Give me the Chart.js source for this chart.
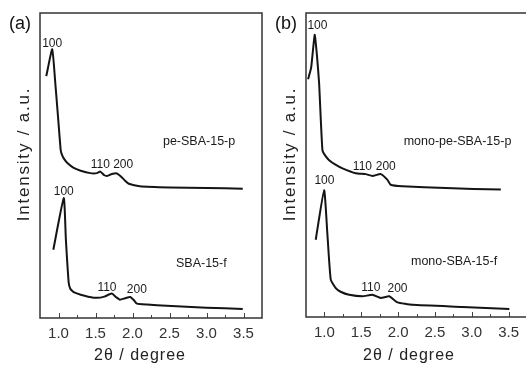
<!DOCTYPE html>
<html>
<head>
<meta charset="utf-8">
<script src="https://cdn.jsdelivr.net/npm/chart.js@4/dist/chart.umd.min.js"></script>
<style>
html, body { margin: 0; padding: 0; overflow: hidden; background: #fff; width: 526px; height: 365px; }
canvas { position: absolute; top: 0; }
#panelA { left: 0; }
#panelB { left: 263px; }
</style>
</head>
<body>
<canvas id="panelA" width="280" height="365"></canvas>
<canvas id="panelB" width="290" height="365"></canvas>
<script>
(function () {

// x axis ticks (2theta, degree)
var tickMin = 0.75;
var tickMax = 3.75;
var tickStep = 0.25;

// panel (a), top: pe-SBA-15-p
var peP_theta = [0.835, 0.915, 0.96, 1.0, 1.03, 1.05, 1.08, 1.12, 1.2, 1.3, 1.43, 1.52, 1.565, 1.62, 1.66, 1.72, 1.79, 1.84, 1.9, 1.95, 2.1, 2.5, 3.0, 3.49];
var peP_int = [79.3, 88.1, 76, 64, 55, 53.3, 52.0, 50.8, 49.3, 48.3, 47.5, 47.5, 48.0, 46.8, 46.6, 47.2, 47.4, 46.5, 45.0, 44.0, 43.2, 42.8, 42.6, 42.4];

// panel (a), bottom: SBA-15-f
var sbaF_theta = [0.93, 1.071, 1.10, 1.138, 1.161, 1.19, 1.22, 1.30, 1.40, 1.52, 1.62, 1.72, 1.78, 1.83, 1.90, 1.97, 2.02, 2.06, 2.2, 2.46, 3.0, 3.49];
var sbaF_int = [22.4, 39.3, 25.6, 11.5, 9.5, 8.8, 8.3, 7.6, 7.0, 6.6, 7.0, 8.0, 6.8, 6.0, 6.5, 6.9, 5.8, 4.7, 4.4, 4.0, 3.4, 2.95];

// panel (b), top: mono-pe-SBA-15-p
var monoP_theta = [0.778, 0.82, 0.868, 0.898, 0.928, 0.973, 1.014, 1.064, 1.15, 1.245, 1.425, 1.561, 1.652, 1.765, 1.856, 1.90, 2.06, 2.648, 3.395];
var monoP_int = [78.2, 82, 92.8, 86.2, 76.9, 54.9, 53, 51.6, 50.1, 48.9, 47.3, 47.0, 46.4, 47.0, 45.1, 43.5, 43.0, 42.4, 41.9];

// panel (b), bottom: mono-SBA-15-f
var monoF_theta = [0.882, 0.996, 1.041, 1.086, 1.154, 1.22, 1.336, 1.516, 1.652, 1.765, 1.879, 1.992, 2.196, 2.875, 3.51];
var monoF_int = [25.4, 41.7, 27.0, 12.3, 9.5, 8.3, 7.3, 6.8, 7.3, 6.25, 6.8, 4.8, 4.0, 3.3, 2.6];

// text labels: [text, 2theta, intensity, size]
var labelsA = [
	['100', 0.915, 90.0, 12],
	['pe-SBA-15-p', 2.90, 57.8, 12.5],
	['110', 1.565, 50.2, 12],
	['200', 1.874, 50.2, 12],
	['100', 1.071, 41.5, 12],
	['SBA-15-f', 2.93, 18.0, 12.5],
	['110', 1.655, 9.8, 12],
	['200', 2.058, 9.3, 12]
];
var labelsB = [
	['100', 0.905, 95.8, 12],
	['mono-pe-SBA-15-p', 2.807, 57.7, 12.5],
	['110', 1.516, 49.4, 12],
	['200', 1.833, 49.4, 12],
	['100', 1.0, 44.7, 12],
	['mono-SBA-15-f', 2.76, 18.3, 12.5],
	['110', 1.629, 9.5, 12],
	['200', 1.992, 9.2, 12]
];

var FONT = '"Liberation Sans", Arial, sans-serif';

function toPoints(xs, ys) {
	var list = [];
	for (var i = 0, len = xs.length; i < len; i++) {
		list.push({ x: xs[i], y: ys[i] });
	}
	return list;
}

function lineSet(xs, ys) {
	return {
		data: toPoints(xs, ys),
		showLine: true,
		borderColor: '#141414',
		borderWidth: 2,
		pointRadius: 0,
		tension: 0.15,
		fill: false
	};
}

function isMajor(v) {
	return Math.abs(v * 2 - Math.round(v * 2)) < 1e-6;
}

// frame, inward ticks, annotations and axis titles
var decorPlugin = {
	id: 'decor',
	afterDraw: function (chart) {
		var ctx = chart.ctx;
		var area = chart.chartArea;
		var xs = chart.scales.x;
		var ys = chart.scales.y;
		var opts = chart.options.plugins.decor;
		ctx.save();

		// ticks
		ctx.strokeStyle = '#444';
		ctx.lineWidth = 1;
		for (var i = 0; i < xs.ticks.length; i++) {
			var v = xs.ticks[i].value;
			if (v <= tickMin + 1e-6 || v >= tickMax - 1e-6) {
				continue;
			}
			var px = Math.round(xs.getPixelForValue(v)) + 0.5;
			var len = isMajor(v) ? 5 : 3;
			ctx.beginPath();
			ctx.moveTo(px, area.bottom);
			ctx.lineTo(px, area.bottom - len);
			ctx.stroke();
		}

		// frame
		ctx.strokeStyle = '#333';
		ctx.lineWidth = 1.5;
		ctx.strokeRect(area.left, area.top, area.right - area.left, area.bottom - area.top);

		// annotations
		ctx.fillStyle = '#1a1a1a';
		ctx.textAlign = 'center';
		ctx.textBaseline = 'middle';
		var list = opts.labels;
		for (var j = 0; j < list.length; j++) {
			ctx.font = list[j][3] + 'px ' + FONT;
			ctx.fillText(list[j][0], xs.getPixelForValue(list[j][1]), ys.getPixelForValue(list[j][2]));
		}

		// panel letter
		ctx.font = '18px ' + FONT;
		ctx.fillStyle = '#111';
		ctx.fillText(opts.letter, area.left - 20, area.top + 11);

		// axis titles
		ctx.fillStyle = '#222';
		ctx.font = '16px ' + FONT;
		ctx.letterSpacing = '1px';
		ctx.textBaseline = 'alphabetic';
		ctx.fillText('2\u03b8 / degree', area.left + opts.xTitleDx, 360);

		ctx.translate(area.left - 16, 154);
		ctx.rotate(-Math.PI / 2);
		ctx.font = '17px ' + FONT;
		ctx.letterSpacing = '1.8px';
		ctx.textBaseline = 'middle';
		ctx.fillText('Intensity / a.u.', 0, 0);
		ctx.restore();
	}
};

function makeChart(id, sets, labels, letter, pad, xHeight, xTitleDx) {
	var context = document.getElementById(id);
	return new Chart(context, {
		type: 'scatter',
		data: { datasets: sets },
		options: {
			responsive: false,
			animation: false,
			layout: { padding: pad },
			plugins: {
				legend: { display: false },
				tooltip: { enabled: false },
				decor: { labels: labels, letter: letter, xTitleDx: xTitleDx }
			},
			scales: {
				x: {
					type: 'linear',
					min: tickMin,
					max: tickMax,
					afterFit: function (scale) { scale.height = xHeight; },
					grid: { display: false, drawTicks: false },
					border: { display: false },
					ticks: {
						stepSize: tickStep,
						autoSkip: false,
						maxRotation: 0,
						padding: 7,
						color: '#333',
						font: { family: FONT, size: 15 },
						callback: function (v) {
							if (isMajor(v) && v >= 1 - 1e-6 && v <= 3.5 + 1e-6) {
								return v.toFixed(1);
							}
							return '';
						}
					}
				},
				y: {
					display: false,
					min: 0,
					max: 100
				}
			}
		},
		plugins: [decorPlugin]
	});
}

makeChart('panelA',
	[lineSet(peP_theta, peP_int), lineSet(sbaF_theta, sbaF_int)],
	labelsA, '(a)', { left: 40, right: 18, top: 13, bottom: 0 }, 47, 100);

makeChart('panelB',
	[lineSet(monoP_theta, monoP_int), lineSet(monoF_theta, monoF_int)],
	labelsB, '(b)', { left: 43, right: 26, top: 13, bottom: 0 }, 48, 103);

}());
</script>
</body>
</html>
